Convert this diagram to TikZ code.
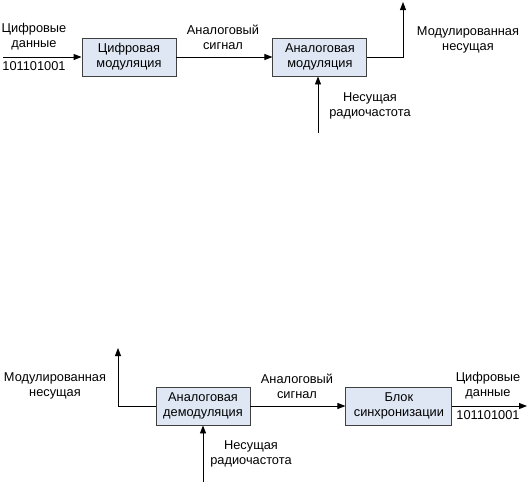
\documentclass[tikz,border=0pt]{standalone}
\usepackage{fontspec}
\setmainfont{Liberation Sans}
\usetikzlibrary{arrows.meta,positioning}
\definecolor{BoxFill}{RGB}{222,231,243}
\definecolor{Edge}{RGB}{64,64,64}

\begin{document}
\begin{tikzpicture}[x=1pt, y=-1pt, >={Triangle[length=8pt,width=6pt]},
  font=\fontsize{12.8}{14.8}\selectfont,
  blk/.style={draw=Edge, fill=BoxFill, line width=0.9pt, minimum width=94pt, minimum height=38pt, align=center, inner sep=1pt},
  lbl/.style={align=center, inner sep=0pt},
  sig/.style={->, line width=0.9pt}]
  \useasboundingbox (0,0) rectangle (527,483);
  % transmitter
  \node[blk] (dmod) at (129,57) {Цифровая\\модуляция};
  \node[blk, right=96pt of dmod] (amod) {Аналоговая\\модуляция};
  \coordinate (din) at (3,57);
  \coordinate (mbend) at (403,57);
  \coordinate (mout) at (403,2);
  \coordinate (cin) at (318,133);
  \draw[sig] (din) -- (dmod);
  \draw[sig] (dmod) -- (amod);
  \draw[sig] (amod.east) -- (mbend) -- (mout);
  \draw[sig] (cin) -- (amod.south -| cin);
  \node[lbl] (dtxt) at (34,37) {Цифровые\\данные};
  \node[lbl] (dbits) at (34,66) {101101001};
  \node[lbl] (atxt) at (223,37) {Аналоговый\\сигнал};
  \node[lbl] (mtxt) at (468,40) {Модулированная\\несущая};
  \node[lbl] (ctxt) at (370,106) {Несущая\\радиочастота};
  % receiver
  \node[blk] (ademod) at (203,406) {Аналоговая\\демодуляция};
  \node[blk, minimum width=106pt, right=95pt of ademod] (sync) {Блок\\синхронизации};
  \coordinate (rbend) at (118,406);
  \coordinate (rout) at (118,348);
  \coordinate (rcin) at (203,482);
  \coordinate (dout) at (527,406);
  \draw[sig] (ademod.west) -- (rbend) -- (rout);
  \draw[sig] (rcin) -- (ademod.south);
  \draw[sig] (ademod) -- (sync);
  \draw[sig] (sync) -- (dout);
  \node[lbl] (rmtxt) at (55,386) {Модулированная\\несущая};
  \node[lbl] (rctxt) at (251,454) {Несущая\\радиочастота};
  \node[lbl] (ratxt) at (297,386) {Аналоговый\\сигнал};
  \node[lbl] (rdtxt) at (488,386) {Цифровые\\данные};
  \node[lbl] (rbits) at (488,415) {101101001};
\end{tikzpicture}
\end{document}
